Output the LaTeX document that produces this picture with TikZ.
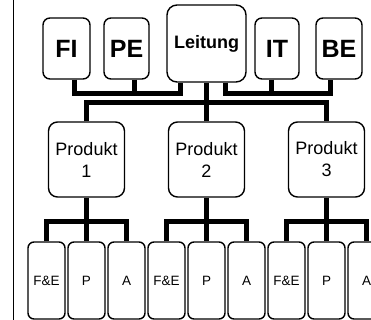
\documentclass[tikz,border=0pt]{standalone}
\usepackage{fontspec}
\setmainfont{Liberation Sans}
\begin{document}
\begin{tikzpicture}[x=1pt,y=-1pt,
  box/.style={draw, line width=1.4pt, fill=white, rounded corners=#1,
    inner sep=0pt, align=center},
  unit/.style={box=7pt, minimum height=61pt, font=\bfseries\fontsize{25}{25}\selectfont},
  head/.style={box=10pt, minimum width=79pt, minimum height=77pt,
    font=\bfseries\fontsize{18}{20}\selectfont},
  prod/.style={box=9pt, minimum width=76pt, minimum height=75pt,
    font=\fontsize{18}{22}\selectfont},
  dept/.style={box=6pt, minimum width=37pt, minimum height=77pt,
    font=\fontsize{13.5}{15}\selectfont},
  wire/.style={line width=5pt}]
\useasboundingbox (0,0) rectangle (371,320);
\clip (0,0) rectangle (371,320);

% frame edge on the left
\draw[line width=1.5pt] (13.5,0) -- (13.5,320);

% levels of the horizontal bars
\coordinate (hl) at (0,93.5);
\coordinate (bus) at (0,103);
\coordinate (low) at (0,221);

% top row
\node[unit, minimum width=47pt] (fi) at (66.5,48.5) {FI};
\node[unit, minimum width=45pt] (pe) at (126.5,48.5) {PE};
\node[head] (lead) at (206.5,43.5) {Leitung};
\node[unit, minimum width=44pt] (it) at (277,48.5) {IT};
\node[unit, minimum width=46pt] (be) at (339,48.5) {BE};

% product row
\node[prod] (p1) at (86.5,159.5) {Produkt\\1};
\node[prod] (p2) at (206.5,159.5) {Produkt\\2};
\node[prod] (p3) at (326.5,159.5) {Produkt\\3};

% department row
\foreach \k/\x in {1/86.5, 2/206.5, 3/326.5} {
  \node[dept] (fe\k) at (\x-40,280.5) {F\&E};
  \node[dept] (pp\k) at (\x,280.5) {P};
  \node[dept] (a\k) at (\x+40,280.5) {A};
}

% staff units attached to the management
\draw[wire] ([xshift=8pt]fi.south) |- ([xshift=-26.5pt]lead.south |- hl)
  -- ([xshift=-26.5pt]lead.south);
\draw[wire] ([xshift=8pt]pe.south) -- ([xshift=8pt]pe.south |- hl);
\draw[wire] ([xshift=19pt]lead.south) |- ([xshift=-8.5pt]be.south |- hl)
  -- ([xshift=-8.5pt]be.south);
\draw[wire] ([xshift=-6pt]it.south) -- ([xshift=-6pt]it.south |- hl);

% management to products
\draw[wire] (lead.south) -- (lead.south |- bus);
\draw[wire] (p1.north) |- (p3.north |- bus) -- (p3.north);
\draw[wire] (p2.north) -- (p2.north |- bus);

% products to departments
\foreach \k in {1,2,3} {
  \draw[wire] (p\k.south) -- (pp\k.north);
  \draw[wire] (fe\k.north) |- (a\k.north |- low) -- (a\k.north);
}
\end{tikzpicture}
\end{document}
